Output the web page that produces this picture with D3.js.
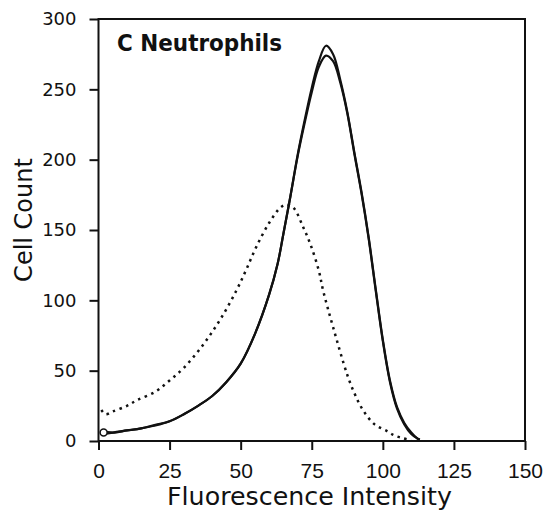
<!DOCTYPE html>
<html>
<head>
<meta charset="utf-8">
<script src="https://cdn.jsdelivr.net/npm/d3@7"></script>
<style>
  body { margin: 0; background: #fff; }
  svg { display: block; }
</style>
</head>
<body>
<div id="chart"></div>
<script>
// histogram traces (x = intensity, y = cell count)
let solidX = [1, 5, 10, 15, 20, 25, 30, 35, 40, 45, 50, 55, 60, 63, 65, 67.5, 70, 72.5, 75, 77.5, 80, 82.5, 85, 87.5, 90, 92.5, 95, 97.5, 100, 102.5, 105, 107.5, 110, 112, 113];
let solidA = [5, 6, 7.5, 9, 11, 14, 19, 25, 32, 42, 55, 76, 104, 126, 147, 174, 203, 228, 251, 270, 281, 275, 257, 234, 205, 177, 145, 108, 72, 43, 24, 13, 6, 2, 1];
let solidB = [7, 6, 7.5, 9, 11.5, 14, 19, 25, 32, 42, 55, 76, 104, 126, 147, 174, 202, 226, 248, 266, 274, 270, 255, 233, 204, 176, 144, 107, 71, 42, 23, 12, 5, 2, 1];

let dottedX = [1, 2.5, 5, 10, 13.5, 20, 25, 30, 37, 43, 48.5, 52, 55.5, 60, 64, 66, 68.5, 72, 74.5, 77.5, 79, 82.5, 87.5, 90, 93, 97, 101.5, 104, 107, 110];
let dotted = [22, 19, 21, 25, 29, 35, 43, 52, 69, 87, 107, 122, 138, 155, 166, 168, 166, 152, 140, 121, 107, 81, 47, 34, 22, 12, 7, 4, 2, 0.5];

let xTicks = [0, 25, 50, 75, 100, 125, 150];
let yTicks = [0, 50, 100, 150, 200, 250, 300];

let width = 549,
    height = 515;

let xScale = d3.scaleLinear().domain([0, 150]).range([98.5, 525]);
let yScale = d3.scaleLinear().domain([0, 300]).range([441, 19]);

let svg = d3.select('#chart').append('svg')
    .attr('width', width)
    .attr('height', height)
    .style('background', '#fff');

// frame
svg.append('rect')
    .attr('x', xScale(0))
    .attr('y', yScale(300))
    .attr('width', xScale(150) - xScale(0))
    .attr('height', yScale(0) - yScale(300))
    .attr('fill', 'none')
    .attr('stroke', '#111')
    .attr('stroke-width', 2);

let yAxis = svg.append('g')
    .attr('transform', 'translate(' + xScale(0) + ',0)')
    .call(d3.axisLeft(yScale).tickValues(yTicks).tickSize(9).tickPadding(13));

let xAxis = svg.append('g')
    .attr('transform', 'translate(0,' + yScale(0) + ')')
    .call(d3.axisBottom(xScale).tickValues(xTicks).tickSize(9).tickPadding(13));

[yAxis, xAxis].forEach(g => {
    g.select('.domain').remove();
    g.selectAll('line').attr('stroke', '#111').attr('stroke-width', 2);
    g.selectAll('text').attr('fill', '#111');
});
yAxis.selectAll('text')
    .style('font-family', 'DejaVu Sans, sans-serif')
    .style('font-size', '18px');
xAxis.selectAll('text')
    .style('font-family', 'Liberation Sans, Arial, sans-serif')
    .style('font-size', '21px');

// axis titles
svg.append('text')
    .attr('x', (167 + 452) / 2)
    .attr('y', 505)
    .attr('text-anchor', 'middle')
    .attr('textLength', 285)
    .attr('lengthAdjust', 'spacingAndGlyphs')
    .style('font-family', 'DejaVu Sans, sans-serif')
    .style('font-size', '24px')
    .attr('fill', '#111')
    .text('Fluorescence Intensity');

svg.append('text')
    .attr('transform', 'translate(32,' + 220 + ') rotate(-90)')
    .attr('text-anchor', 'middle')
    .style('font-family', 'DejaVu Sans, sans-serif')
    .style('font-size', '24px')
    .attr('fill', '#111')
    .text('Cell Count');

svg.append('text')
    .attr('x', 117)
    .attr('y', 51)
    .attr('textLength', 165)
    .attr('lengthAdjust', 'spacingAndGlyphs')
    .style('font-family', 'DejaVu Sans, sans-serif')
    .style('font-size', '23px')
    .style('font-weight', 'bold')
    .attr('fill', '#111')
    .text('C Neutrophils');

let line = d3.line()
    .x(d => xScale(d[0]))
    .y(d => yScale(d[1]))
    .curve(d3.curveCatmullRom.alpha(0.5));

svg.append('path')
    .datum(dottedX.map((x, i) => [x, dotted[i]]))
    .attr('d', line)
    .attr('fill', 'none')
    .attr('stroke', '#111')
    .attr('stroke-width', 2.5)
    .attr('stroke-dasharray', '2.5,4.5');

svg.append('path')
    .datum(solidX.map((x, i) => [x, solidA[i]]))
    .attr('d', line)
    .attr('fill', 'none')
    .attr('stroke', '#111')
    .attr('stroke-width', 2.2);

svg.append('path')
    .datum(solidX.map((x, i) => [x, solidB[i]]))
    .attr('d', line)
    .attr('fill', 'none')
    .attr('stroke', '#111')
    .attr('stroke-width', 2.2);

// little open marker at the start of the trace
svg.append('circle')
    .attr('cx', xScale(1.8))
    .attr('cy', yScale(6))
    .attr('r', 3.5)
    .attr('fill', '#fff')
    .attr('stroke', '#111')
    .attr('stroke-width', 1.5);
</script>
</body>
</html>
